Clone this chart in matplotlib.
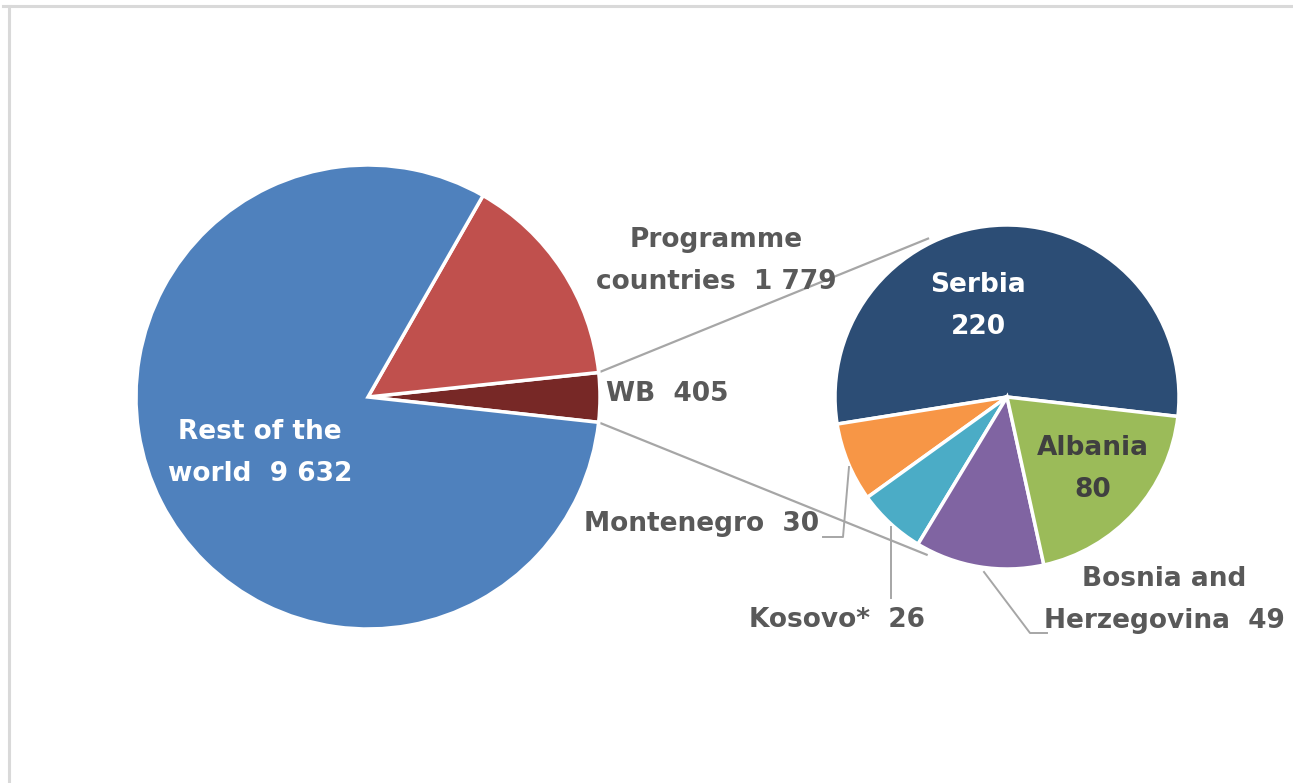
"""Pie-of-pie: programme countries vs Western Balkans, with the WB breakdown."""

import matplotlib
matplotlib.use("Agg")
import numpy as np
import matplotlib.pyplot as plt

W, H = 1293, 783

# Left pie (counter-clockwise from the WB slice)
outer_labels = ["WB", "Programme\ncountries", "Rest of the\nworld"]
outer_values = [405, 1779, 9632]
outer_colors = ["#772826", "#C0504D", "#4F81BD"]

# Right pie: breakdown of the WB slice (counter-clockwise from Serbia)
wb_labels = ["Serbia", "Montenegro", "Kosovo*", "Bosnia and\nHerzegovina", "Albania"]
wb_values = [220, 30, 26, 49, 80]
wb_colors = ["#2C4D75", "#F79646", "#4BACC6", "#8064A2", "#9BBB59"]

GREY_TXT = "#595959"
GREY_LINE = "#A6A6A6"


def fmt(v):
    # space as thousands separator, as in the source ("9 632")
    return f"{v:,}".replace(",", " ")


def py(y):
    # pixel row (top-down) -> data y (bottom-up)
    return H - y


fig = plt.figure(figsize=(W / 100, H / 100), dpi=100)
ax = fig.add_axes([0, 0, 1, 1])

left_c, left_r = (368, py(397)), 232
right_c, right_r = (1007, py(397)), 172

wb_deg = outer_values[0] / sum(outer_values) * 360
wl, _ = ax.pie(outer_values, colors=outer_colors, startangle=-wb_deg / 2 - 0.1,
               center=left_c, radius=left_r,
               wedgeprops=dict(edgecolor="white", linewidth=2.5))
wr, _ = ax.pie(wb_values, colors=wb_colors, startangle=-6.5,
               center=right_c, radius=right_r,
               wedgeprops=dict(edgecolor="white", linewidth=2.5))

ax.set_xlim(0, W)
ax.set_ylim(0, H)
ax.set_aspect("equal")
ax.axis("off")

# Connector lines from the WB slice edges to the right pie
wb = wl[0]
for th_l, th_r in ((wb.theta2, 116.5), (wb.theta1, -117.0)):
    x0 = left_c[0] + left_r * np.cos(np.radians(th_l))
    y0 = left_c[1] + left_r * np.sin(np.radians(th_l))
    x1 = right_c[0] + (right_r + 5) * np.cos(np.radians(th_r))
    y1 = right_c[1] + (right_r + 5) * np.sin(np.radians(th_r))
    ax.plot([x0, x1], [y0, y1], color=GREY_LINE, lw=1.6, zorder=0)

font = dict(fontsize=19, fontweight="bold", ha="center", va="center",
            linespacing=1.8, family="DejaVu Sans")

# Left pie labels
ax.text(260, py(453), f"{outer_labels[2]}  {fmt(outer_values[2])}", color="white", **font)
ax.text(716, py(261), f"{outer_labels[1]}  {fmt(outer_values[1])}", color=GREY_TXT, **font)
ax.text(606, py(394), f"{outer_labels[0]}  {fmt(outer_values[0])}", color=GREY_TXT,
        **{**font, "ha": "left"})

# Right pie labels
ax.text(978, py(306), f"{wb_labels[0]}\n{wb_values[0]}", color="white", **font)
ax.text(1093, py(469), f"{wb_labels[4]}\n{wb_values[4]}", color="#404040", **font)
ax.text(819, py(524), f"{wb_labels[1]}  {wb_values[1]}", color=GREY_TXT,
        **{**font, "ha": "right"})
ax.text(837, py(620), f"{wb_labels[2]}  {wb_values[2]}", color=GREY_TXT, **font)
ax.text(1164, py(600), f"{wb_labels[3]}  {wb_values[3]}", color=GREY_TXT, **font)

# Leader lines for the small slices
leaders = [
    [(823, 537), (843, 537), (849, 467)],
    [(891, 527), (891, 598)],
    [(984, 572), (1030, 633), (1047, 633)],
]
for pts in leaders:
    xs = [p[0] for p in pts]
    ys = [py(p[1]) for p in pts]
    ax.plot(xs, ys, color=GREY_LINE, lw=1.4)

# Outer frame (only top and left edges visible in the crop)
ax.plot([3, W], [py(5.5), py(5.5)], color="#D9D9D9", lw=2.2, clip_on=False)
ax.plot([9, 9], [py(5.5), 0], color="#D9D9D9", lw=2.2, clip_on=False)

fig.savefig("out.png", dpi=100)
plt.close(fig)
